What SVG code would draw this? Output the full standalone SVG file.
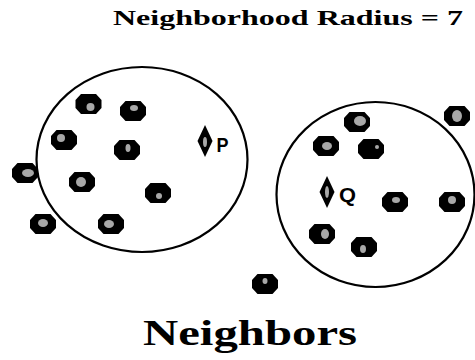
<svg xmlns="http://www.w3.org/2000/svg" xmlns:xlink="http://www.w3.org/1999/xlink" width="475" height="360" viewBox="0 0 475 360">
<style>
.ring{fill:none;stroke:#000;stroke-width:2.2}
.oct{fill:#000}
.hl{fill:#a8a8a8}
.dia{fill:#000}
.title{font-family:"Liberation Serif","Times New Roman",serif;font-weight:bold;fill:#000}
.lbl{font-family:"Liberation Sans",Arial,sans-serif;font-weight:bold;fill:#000;font-size:20px}
</style>
<defs>
<path id="o" d="M-7.5,-10 L7.5,-10 L13,-4 L13,4 L7.5,10 L-7.5,10 L-13,4 L-13,-4 Z"/>
<path id="d" d="M0,-16 L7.5,0 L0,16 L-7.5,0 Z"/>
</defs>
<rect width="475" height="360" fill="#fff"/>
<text class="title" x="113" y="25" font-size="22" textLength="350" lengthAdjust="spacingAndGlyphs">Neighborhood Radius = 7</text>
<g id="circleLeft"><ellipse class="ring" cx="142" cy="159.5" rx="105.5" ry="92.5"/></g>
<g id="circleRight"><ellipse class="ring" cx="375.5" cy="194.5" rx="99" ry="92.5"/></g>
<g id="connectors"></g>
<g id="n1" transform="translate(88.5,104)"><use href="#o" class="oct"/><ellipse class="hl" cx="2" cy="3" rx="4" ry="4"/></g>
<g id="n2" transform="translate(133,111)"><use href="#o" class="oct"/><ellipse class="hl" cx="1" cy="-3" rx="4" ry="3"/></g>
<g id="n3" transform="translate(64,140)"><use href="#o" class="oct"/><ellipse class="hl" cx="-3" cy="-2" rx="4" ry="4"/></g>
<g id="n4" transform="translate(127,150)"><use href="#o" class="oct"/><ellipse class="hl" cx="1" cy="-2" rx="2.5" ry="4"/></g>
<g id="n5" transform="translate(25,173)"><use href="#o" class="oct"/><ellipse class="hl" cx="3" cy="0" rx="6" ry="4"/></g>
<g id="n6" transform="translate(82,182)"><use href="#o" class="oct"/><ellipse class="hl" cx="-1" cy="0" rx="5" ry="5"/></g>
<g id="n7" transform="translate(158,193)"><use href="#o" class="oct"/><ellipse class="hl" cx="1" cy="3" rx="3" ry="3"/></g>
<g id="n8" transform="translate(43,224)"><use href="#o" class="oct"/><ellipse class="hl" cx="0" cy="-1" rx="5" ry="4"/></g>
<g id="n9" transform="translate(111,224)"><use href="#o" class="oct"/><ellipse class="hl" cx="-2" cy="0" rx="5" ry="4"/></g>
<g id="P"><use href="#d" class="dia" x="205" y="141"/><ellipse class="hl" cx="205" cy="142" rx="2" ry="5"/><text class="lbl" x="216.5" y="152" textLength="12" lengthAdjust="spacingAndGlyphs">P</text></g>
<g id="m1" transform="translate(357,122)"><use href="#o" class="oct"/><ellipse class="hl" cx="3" cy="-1" rx="6" ry="5"/></g>
<g id="m2" transform="translate(326,146)"><use href="#o" class="oct"/><ellipse class="hl" cx="1" cy="0" rx="5" ry="4"/></g>
<g id="m3" transform="translate(371,149)"><use href="#o" class="oct"/><ellipse class="hl" cx="6" cy="-2" rx="2" ry="2"/></g>
<g id="m4" transform="translate(457,116)"><use href="#o" class="oct"/><ellipse class="hl" cx="0" cy="0" rx="5" ry="6"/></g>
<g id="m5" transform="translate(395,202)"><use href="#o" class="oct"/><ellipse class="hl" cx="1" cy="-2" rx="4" ry="3"/></g>
<g id="m6" transform="translate(452,202)"><use href="#o" class="oct"/><ellipse class="hl" cx="0" cy="-2" rx="4" ry="4"/></g>
<g id="m7" transform="translate(322,234)"><use href="#o" class="oct"/><ellipse class="hl" cx="3" cy="0" rx="4" ry="5"/></g>
<g id="m8" transform="translate(364,247)"><use href="#o" class="oct"/><ellipse class="hl" cx="-1" cy="2" rx="3" ry="4"/></g>
<g id="m9" transform="translate(265,284)"><use href="#o" class="oct"/><ellipse class="hl" cx="0" cy="-3" rx="2.5" ry="3"/></g>
<g id="Q"><use href="#d" class="dia" x="327" y="192"/><ellipse class="hl" cx="327" cy="192" rx="2" ry="6"/><text class="lbl" x="339" y="202" textLength="17" lengthAdjust="spacingAndGlyphs">Q</text></g>
<text class="title" x="143" y="345" font-size="35" textLength="214" lengthAdjust="spacingAndGlyphs">Neighbors</text>
</svg>
